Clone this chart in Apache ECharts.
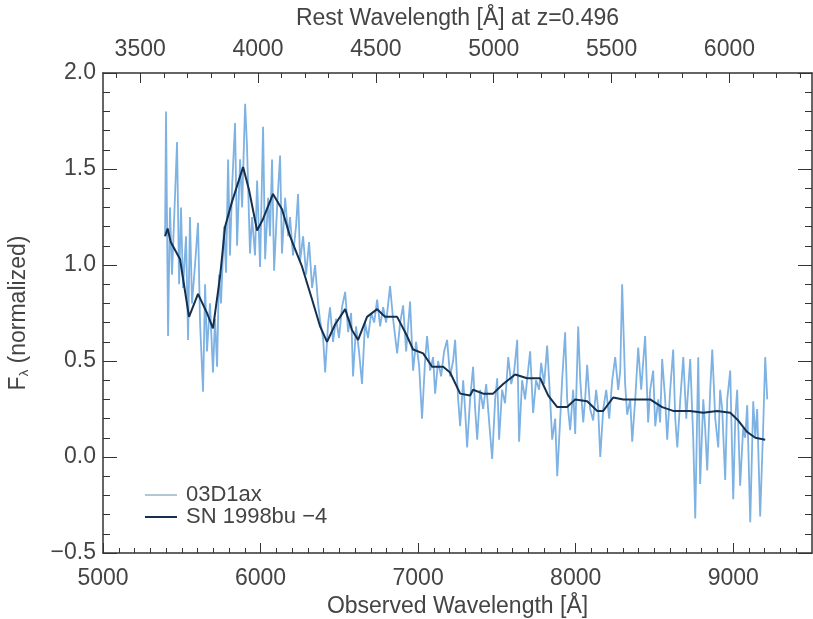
<!DOCTYPE html>
<html>
<head>
<meta charset="utf-8">
<title>03D1ax spectrum</title>
<script src="https://cdn.jsdelivr.net/npm/echarts@6/dist/echarts.min.js"></script>
<style>
  html, body { margin: 0; padding: 0; background: #fff; }
  #chart { width: 813px; height: 619px; }
</style>
</head>
<body>
<div id="chart"></div>
<script>
// redshift of the host, used for the rest-frame axis on top
var redshift = 0.496;

// tick labels
var obsTicks = [5000, 6000, 7000, 8000, 9000];
var restTicks = [3500, 4000, 4500, 5000, 5500, 6000];

// 03D1ax observed spectrum [observed wavelength, normalized flux]
var spec03D1ax = [
  [5394,1.15],[5400,1.80],[5413,0.63],[5425,1.30],[5438,0.95],[5457,1.36],[5470,1.64],[5483,0.90],
  [5495,1.30],[5508,0.88],[5527,1.15],[5540,0.61],[5552,1.25],[5565,0.80],[5584,1.00],[5603,1.22],
  [5616,0.70],[5635,0.34],[5648,0.90],[5660,0.55],[5679,0.80],[5698,0.44],[5711,0.72],[5724,0.47],
  [5736,0.95],[5749,0.80],[5768,1.20],[5781,0.96],[5794,1.55],[5806,1.05],[5819,1.40],[5838,1.74],
  [5851,1.10],[5870,1.55],[5883,1.30],[5902,1.84],[5914,1.62],[5933,1.06],[5946,1.25],[5965,1.05],
  [5978,1.44],[5997,0.99],[6016,1.72],[6029,1.03],[6048,1.35],[6060,1.15],[6073,1.55],[6086,0.97],
  [6105,1.30],[6124,1.57],[6136,1.06],[6156,1.35],[6175,1.15],[6187,1.25],
  [6206,1.05],[6225,1.20],[6238,1.37],[6251,1.02],[6270,1.15],[6289,0.95],[6308,1.12],[6327,0.88],
  [6346,1.00],[6365,0.80],[6378,0.71],[6397,0.62],[6410,0.44],[6429,0.70],[6441,0.78],[6460,0.60],
  [6479,0.72],[6498,0.62],[6517,0.78],[6537,0.86],[6556,0.65],[6575,0.75],[6587,0.42],[6606,0.68],
  [6625,0.55],[6644,0.38],[6663,0.70],[6682,0.62],[6702,0.75],[6721,0.70],[6740,0.82],[6759,0.68],
  [6778,0.78],[6797,0.70],[6822,0.89],[6841,0.72],[6867,0.54],[6886,0.70],[6905,0.79],[6924,0.55],
  [6949,0.81],[6968,0.45],[6987,0.60],[7006,0.48],[7025,0.20],[7044,0.50],[7057,0.63],[7076,0.45],
  [7095,0.52],[7108,0.33],[7127,0.50],[7146,0.42],[7165,0.55],[7184,0.61],[7203,0.42],[7222,0.50],
  [7235,0.61],[7254,0.30],[7267,0.16],[7286,0.40],[7298,0.25],
  [7311,0.05],[7330,0.30],[7349,0.47],[7362,0.25],[7375,0.09],[7394,0.35],[7413,0.25],[7432,0.38],
  [7451,0.18],[7470,-0.01],[7489,0.30],[7502,0.41],[7514,0.09],[7533,0.35],[7552,0.28],[7572,0.52],
  [7591,0.38],[7610,0.45],[7629,0.61],[7641,0.08],[7660,0.40],[7679,0.30],[7698,0.45],[7711,0.55],
  [7730,0.23],[7749,0.40],[7768,0.35],[7781,0.49],[7800,0.38],[7819,0.58],[7838,0.30],[7851,0.09],
  [7870,0.20],[7883,-0.10],[7902,0.20],[7914,0.40],[7933,0.65],[7946,0.30],[7965,0.14],[7984,0.35],
  [7997,0.12],[8016,0.68],[8029,0.40],[8048,0.18],[8060,0.30],[8073,0.48],[8092,0.25],[8111,0.19],
  [8130,0.35],[8143,0.25],[8156,0.00],[8175,0.25],[8194,0.35],[8213,0.20],[8232,0.40],[8251,0.52],
  [8270,0.35],[8283,0.45],[8295,0.90],[8314,0.38],[8327,0.22],[8346,0.30],[8359,0.08],[8378,0.30],
  [8397,0.57],[8416,0.35],[8429,0.50],[8441,0.63],[8460,0.18],[8473,0.35],
  [8492,0.45],[8505,0.16],[8524,0.30],[8536,0.18],[8549,0.51],[8568,0.30],[8581,0.09],[8600,0.35],
  [8619,0.56],[8632,0.20],[8645,0.05],[8664,0.30],[8683,0.52],[8702,0.20],[8714,0.35],[8727,0.51],
  [8746,0.10],[8759,-0.32],[8778,0.52],[8790,-0.14],[8810,0.30],[8822,0.15],[8835,-0.07],[8854,0.35],
  [8867,0.56],[8886,0.20],[8905,0.05],[8917,0.35],[8930,0.25],[8949,-0.12],[8962,0.30],[8981,0.45],
  [9000,-0.22],[9013,0.20],[9025,0.35],[9044,-0.15],[9063,0.15],[9076,0.10],[9089,0.27],[9108,-0.34],
  [9127,0.29],[9140,0.10],[9152,0.25],[9171,-0.31],[9190,0.15],[9203,0.52],[9216,0.30]
];

// SN 1998bu template at -4 days, redshifted
var sn1998bu = [
  [5394,1.15],[5410,1.19],[5430,1.12],[5489,1.03],[5546,0.73],[5603,0.85],[5660,0.75],[5698,0.67],
  [5743,0.94],[5775,1.20],[5819,1.33],[5889,1.51],[5927,1.39],[5978,1.18],[6016,1.24],[6079,1.37],
  [6136,1.29],[6187,1.15],[6206,1.11],[6264,0.99],[6327,0.82],[6378,0.68],[6422,0.60],[6473,0.69],
  [6537,0.77],[6581,0.66],[6619,0.61],[6676,0.73],[6740,0.77],[6790,0.73],[6867,0.73],[6930,0.63],
  [6968,0.56],[7032,0.54],[7089,0.47],[7159,0.47],[7203,0.44],[7267,0.33],[7330,0.32],[7349,0.35],
  [7413,0.33],[7476,0.33],[7540,0.38],[7616,0.43],[7692,0.41],[7775,0.41],[7826,0.32],[7883,0.26],
  [7946,0.26],[7997,0.30],[8073,0.29],[8137,0.24],[8175,0.24],[8238,0.31],[8302,0.30],[8390,0.30],
  [8473,0.30],[8492,0.29],[8549,0.26],[8619,0.24],[8727,0.24],[8810,0.23],[8898,0.24],[8981,0.23],
  [9032,0.19],[9089,0.13],[9140,0.10],[9203,0.09]
];

var axisColor = '#333';
var textColor = '#444';
var fontFam = 'Liberation Sans, Arial, Helvetica, sans-serif';
var fontSz = 23;

// minor tick positions (every 100 A observed, every 100 A rest on top)
var obsMinor = [];
for (var w = 5100; w < 9500; w += 100) obsMinor.push(w);
var restMinor = [];
for (var r = 3400; r <= 6300; r += 100) restMinor.push(r * (1 + redshift));
var restMajor = restTicks.map(function (t) { return t * (1 + redshift); });

function xAxisBase(pos) {
  return {
    type: 'value', min: 5000, max: 9500, position: pos,
    splitLine: { show: false },
    axisLine: { show: false, onZero: false }
  };
}

var chart = echarts.init(document.getElementById('chart'));
chart.setOption({
  animation: false,
  backgroundColor: '#fff',
  grid: { left: 103, right: 1, top: 73, bottom: 66, containLabel: false, outerBoundsMode: 'none' },
  legend: {
    orient: 'vertical', left: 140, top: 479,
    icon: 'rect', itemWidth: 32, itemHeight: 2, itemGap: 0,
    textStyle: { fontFamily: fontFam, fontSize: 22, color: textColor, lineHeight: 22, padding: [0, 0, 0, 4] },
    data: [
      { name: '03D1ax', itemStyle: { color: '#b3c6d4' }, lineStyle: { color: '#b3c6d4' } },
      { name: 'SN 1998bu \u22124', itemStyle: { color: '#15304f' }, lineStyle: { color: '#15304f' } }
    ]
  },
  xAxis: [
    Object.assign(xAxisBase('bottom'), {
      name: 'Observed Wavelength [Å]', nameLocation: 'middle', nameGap: 40,
      nameTextStyle: { fontFamily: fontFam, fontSize: fontSz, color: textColor },
      axisLine: { show: true, onZero: false, lineStyle: { color: axisColor, width: 1.5 } },
      axisTick: { show: true, inside: true, length: 10, customValues: obsTicks, lineStyle: { color: axisColor } },
      axisLabel: {
        customValues: obsTicks, margin: 14, fontFamily: fontFam, fontSize: fontSz, color: textColor,
        formatter: function (v) { return String(v); }
      }
    }),
    Object.assign(xAxisBase('bottom'), {
      axisTick: { show: true, inside: true, length: 5, customValues: obsMinor, lineStyle: { color: axisColor } },
      axisLabel: { show: false }
    }),
    Object.assign(xAxisBase('top'), {
      name: 'Rest Wavelength [Å] at z=' + redshift, nameLocation: 'middle', nameGap: 43,
      nameTextStyle: { fontFamily: fontFam, fontSize: fontSz, color: textColor },
      axisLine: { show: true, onZero: false, lineStyle: { color: axisColor, width: 1.5 } },
      axisTick: { show: true, inside: true, length: 10, customValues: restMajor, lineStyle: { color: axisColor } },
      axisLabel: {
        customValues: restMajor, margin: 12, fontFamily: fontFam, fontSize: fontSz, color: textColor,
        formatter: function (v) { return String(Math.round(v / (1 + redshift))); }
      }
    }),
    Object.assign(xAxisBase('top'), {
      axisTick: { show: true, inside: true, length: 5, customValues: restMinor, lineStyle: { color: axisColor } },
      axisLabel: { show: false }
    })
  ],
  yAxis: [
    {
      type: 'value', min: -0.5, max: 2.0, interval: 0.5, position: 'left',
      name: '{a|F}{s|λ}{a| (normalized)}', nameLocation: 'middle', nameGap: 72, nameRotate: 90,
      nameTextStyle: {
        fontFamily: fontFam, color: textColor,
        rich: {
          a: { fontFamily: fontFam, fontSize: fontSz, color: textColor },
          s: { fontFamily: fontFam, fontSize: 13, color: textColor, padding: [12, 0, 0, 0] }
        }
      },
      splitLine: { show: false },
      axisLine: { show: true, onZero: false, lineStyle: { color: axisColor, width: 1.5 } },
      axisTick: { show: true, inside: true, length: 14, lineStyle: { color: axisColor } },
      minorTick: { show: true, splitNumber: 5, length: 7, lineStyle: { color: axisColor } },
      axisLabel: {
        margin: 7, fontFamily: fontFam, fontSize: fontSz, color: textColor,
        formatter: function (v) { return v < 0 ? '\u2212' + Math.abs(v).toFixed(1) : v.toFixed(1); }
      }
    },
    {
      type: 'value', min: -0.5, max: 2.0, interval: 0.5, position: 'right',
      splitLine: { show: false },
      axisLine: { show: true, onZero: false, lineStyle: { color: axisColor, width: 1.5 } },
      axisTick: { show: true, inside: true, length: 14, lineStyle: { color: axisColor } },
      minorTick: { show: true, splitNumber: 5, length: 7, lineStyle: { color: axisColor } },
      axisLabel: { show: false }
    }
  ],
  series: [
    {
      name: '03D1ax', type: 'line', xAxisIndex: 0, yAxisIndex: 0,
      data: spec03D1ax, symbol: 'none', z: 2,
      lineStyle: { color: '#7db2e3', width: 1.8 },
      itemStyle: { color: '#b3c6d4' }
    },
    {
      name: 'SN 1998bu \u22124', type: 'line', xAxisIndex: 0, yAxisIndex: 0,
      data: sn1998bu, symbol: 'none', z: 3,
      lineStyle: { color: '#15304f', width: 2 },
      itemStyle: { color: '#15304f' }
    }
  ]
});
</script>
</body>
</html>
